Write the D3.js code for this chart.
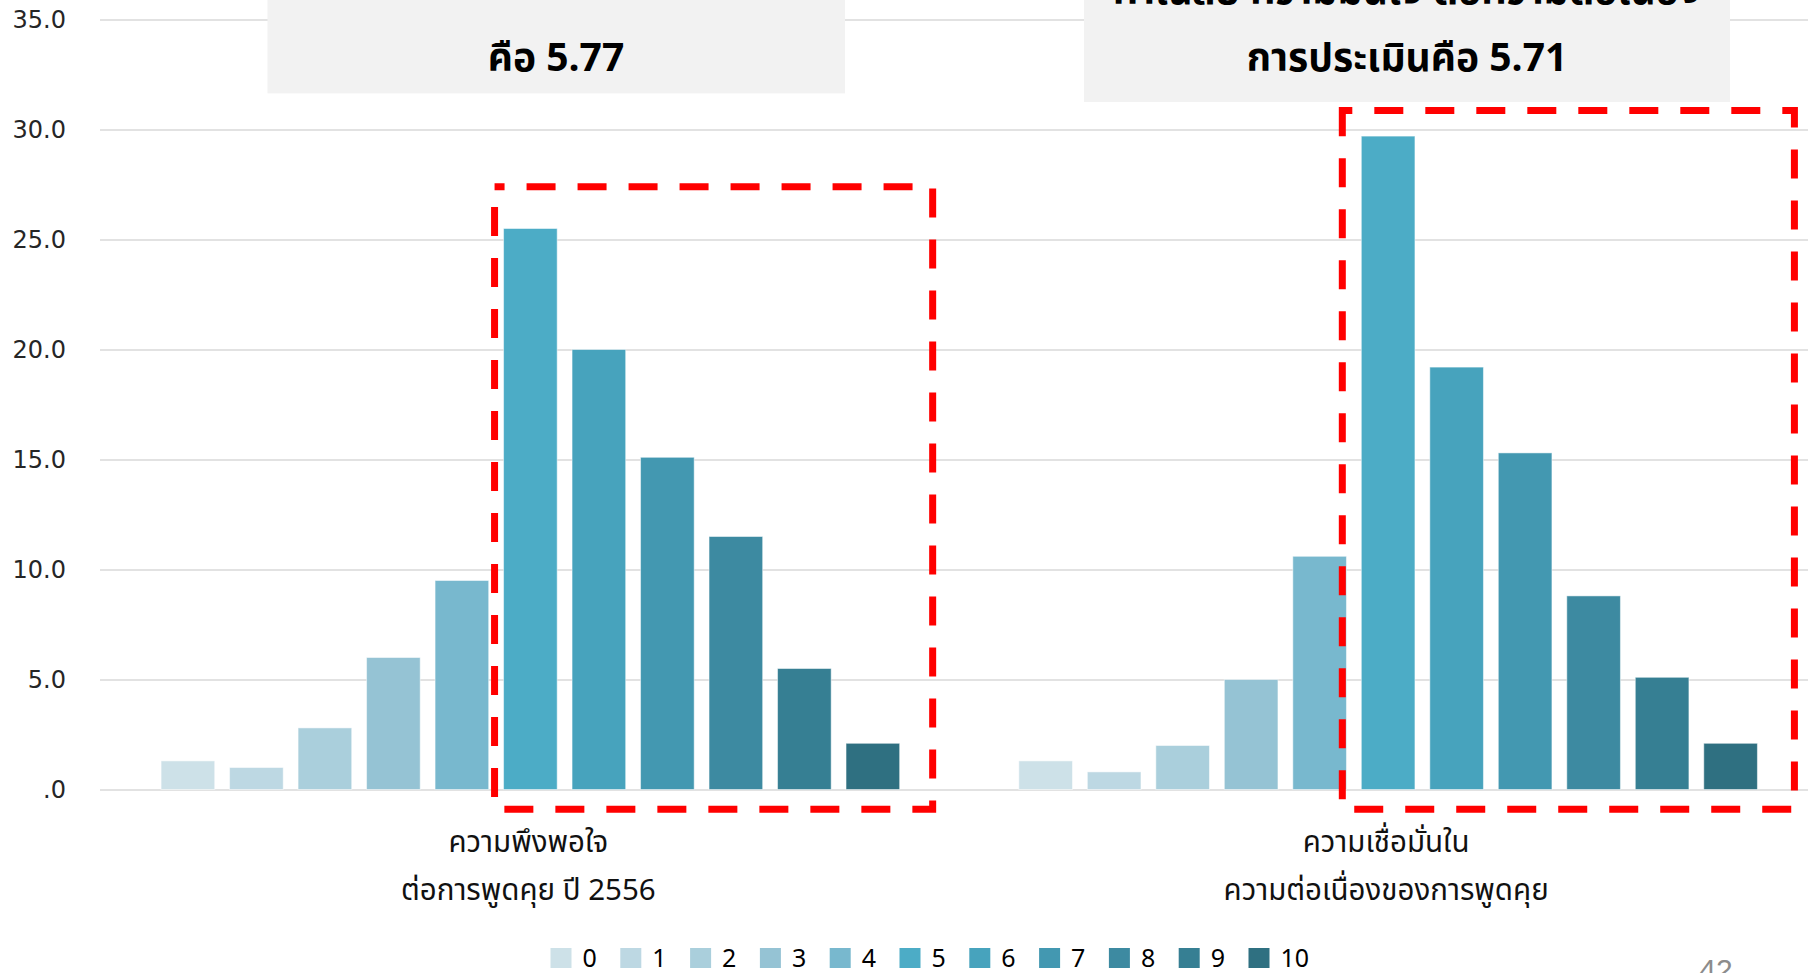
<!DOCTYPE html>
<html>
<head>
<meta charset="utf-8">
<script src="https://cdn.jsdelivr.net/npm/d3@7"></script>
<style>
  body { margin: 0; background: #fff; overflow: hidden; }
  .thai { font-family: "Noto Sans Thai", "Noto Sans Thai UI", "Loma", "Garuda", "Waree", "Tlwg Typo", "Norasi", sans-serif; }
</style>
</head>
<body>
<div id="myChart"></div>
<script>
//----- data

var groups = ['satisfaction', 'confidence'];
var groupLabels = [
  ['ความพึงพอใจ', 'ต่อการพูดคุย ปี 2556'],
  ['ความเชื่อมั่นใน', 'ความต่อเนื่องของการพูดคุย']
];
var scores = ['0', '1', '2', '3', '4', '5', '6', '7', '8', '9', '10'];

// percent of answers per score
var satisfaction = [1.3, 1.0, 2.8, 6.0, 9.5, 25.5, 20.0, 15.1, 11.5, 5.5, 2.1];
var confidence   = [1.3, 0.8, 2.0, 5.0, 10.6, 29.7, 19.2, 15.3, 8.8, 5.1, 2.1];

var yTicks = [0, 5, 10, 15, 20, 25, 30, 35];

var colors = ['#cde1e8', '#bdd8e3', '#aacfdc', '#95c3d4', '#78b8ce', '#4cacc6',
              '#47a3bd', '#4398b1', '#3d8aa1', '#367f93', '#2f7081'];

// the red boxes round scores 5-10 (top in chart units)
var highlight = [
  { group: 'satisfaction', from: '5', to: '10', top: 27.4, bottom: -0.9, padL: 9, padR: 33 },
  { group: 'confidence',   from: '5', to: '10', top: 30.86, bottom: -0.9, padL: 19, padR: 37 }
];

// grey note boxes at the top
var notes = [
  { group: 'satisfaction', lines: ['คือ 5.77'] },
  { group: 'confidence',   lines: ['ค่าเฉลี่ย ความมั่นใจ ต่อความต่อเนื่อง', 'การประเมินคือ 5.71'] }
];

var table = groups.map(function(g, i) {
  var vals = i === 0 ? satisfaction : confidence;
  return { group: g, label: groupLabels[i],
           values: scores.map(function(s, j) { return { score: s, value: vals[j] }; }) };
});

//----- chart

var W = 1808, H = 973;

var svg = d3.select("#myChart").append("svg")
  .attr("width", W).attr("height", H);

var y = d3.scaleLinear().domain([0, 35]).range([789.5, 19.5]);

var x0 = d3.scaleBand().domain(groups).range([101.5, 1817]);

var x1 = d3.scaleBand().domain(scores)
  .range([0, x0.bandwidth()])
  .paddingInner(0.217)
  .paddingOuter(0.87);

var color = d3.scaleOrdinal().domain(scores).range(colors);

// grid + y labels
var yAxis = d3.axisLeft(y)
  .tickValues(yTicks)
  .tickSize(-(W - 100))
  .tickPadding(34)
  .tickFormat(function(d) { return d === 0 ? '.0' : d3.format('.1f')(d); });

var ga = svg.append("g")
  .attr("transform", "translate(100,0)")
  .call(yAxis);
ga.select(".domain").remove();
ga.selectAll(".tick line").attr("stroke", "#d9d9d9").attr("stroke-width", 1.5);
ga.selectAll(".tick text")
  .attr("fill", "#262626")
  .style("font-family", "DejaVu Sans, Verdana, sans-serif")
  .style("font-size", "24px");

// grey notes
var noteG = svg.selectAll(".note")
  .data(notes)
  .enter()
  .append("g")
  .attr("class", "note");

noteG.append("rect")
  .attr("x", function(d) { return d.group === 'satisfaction' ? 267.5 : 1084; })
  .attr("y", -20)
  .attr("width", function(d) { return d.group === 'satisfaction' ? 577.5 : 646; })
  .attr("height", function(d) { return d.group === 'satisfaction' ? 113.4 : 122; })
  .attr("fill", "#f2f2f2");

noteG.each(function(d) {
  var cx = d.group === 'satisfaction' ? 556 : 1407;
  var n = d.lines.length;
  d3.select(this).selectAll("text")
    .data(d.lines)
    .enter()
    .append("text")
    .attr("class", "thai")
    .attr("x", cx)
    .attr("y", function(t, i) { return 71 - (n - 1 - i) * 67; })
    .attr("text-anchor", "middle")
    .attr("font-size", 39)
    .attr("font-weight", "bold")
    .attr("fill", "#000")
    .text(function(t) { return t; });
});

// bars
var gg = svg.selectAll(".grp")
  .data(table)
  .enter()
  .append("g")
  .attr("class", "grp")
  .attr("transform", function(d) { return "translate(" + x0(d.group) + ",0)"; });

gg.selectAll("rect")
  .data(function(d) { return d.values; })
  .enter()
  .append("rect")
  .attr("x", function(d) { return x1(d.score); })
  .attr("y", function(d) { return y(d.value); })
  .attr("width", x1.bandwidth())
  .attr("height", function(d) { return y(0) - y(d.value); })
  .attr("fill", function(d) { return color(d.score); })
  .attr("stroke", "#fff")
  .attr("stroke-opacity", 0.5)
  .attr("stroke-width", 1);

// category labels under each group
gg.each(function(d) {
  d3.select(this).selectAll(".cat")
    .data(d.label)
    .enter()
    .append("text")
    .attr("class", "thai cat")
    .attr("x", x0.bandwidth() / 2 - 2)
    .attr("y", function(t, i) { return 852 + i * 48; })
    .attr("text-anchor", "middle")
    .attr("font-size", 29.5)
    .attr("fill", "#111")
    .text(function(t) { return t; });
});

// red dashed boxes
svg.selectAll(".hl")
  .data(highlight)
  .enter()
  .append("rect")
  .attr("class", "hl")
  .attr("x", function(d) { return x0(d.group) + x1(d.from) - d.padL; })
  .attr("y", function(d) { return y(d.top); })
  .attr("width", function(d) {
    return (x1(d.to) + x1.bandwidth() + d.padR) - (x1(d.from) - d.padL);
  })
  .attr("height", function(d) { return y(d.bottom) - y(d.top); })
  .attr("fill", "none")
  .attr("stroke", "#ff0000")
  .attr("stroke-width", 7)
  .attr("stroke-dasharray", "29,22")
  .attr("stroke-dashoffset", 19);

// legend
var lx = d3.scaleBand().domain(scores).range([550.5, 550.5 + 11 * 69.8]);

var lg = svg.selectAll(".leg")
  .data(scores)
  .enter()
  .append("g")
  .attr("class", "leg")
  .attr("transform", function(d) { return "translate(" + lx(d) + ",948)"; });

lg.append("rect")
  .attr("width", 21)
  .attr("height", 20)
  .attr("fill", function(d) { return color(d); });

lg.append("text")
  .attr("class", "thai")
  .attr("x", 32)
  .attr("y", 19)
  .attr("font-size", 25)
  .attr("fill", "#000")
  .text(function(d) { return d; });

// page number
svg.append("text")
  .attr("x", 1716)
  .attr("y", 980)
  .attr("text-anchor", "middle")
  .attr("font-size", 30)
  .attr("fill", "#8c8c8c")
  .style("font-family", "Liberation Sans, Arial, sans-serif")
  .text("42");
</script>
</body>
</html>
